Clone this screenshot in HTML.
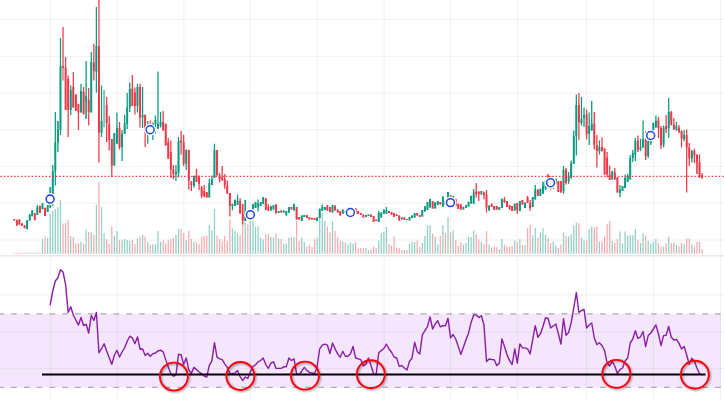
<!DOCTYPE html>
<html><head><meta charset="utf-8"><title>chart</title>
<style>html,body{margin:0;padding:0;background:#fff;font-family:"Liberation Sans",sans-serif;}svg{display:block;filter:blur(0.35px)}</style></head><body>
<svg width="724" height="400" viewBox="0 0 724 400">
<defs><filter id="sh" x="-30%" y="-30%" width="170%" height="170%"><feGaussianBlur in="SourceAlpha" stdDeviation="1.1"/><feOffset dx="1.3" dy="1.3"/><feComponentTransfer><feFuncA type="linear" slope="0.45"/></feComponentTransfer><feMerge><feMergeNode/><feMergeNode in="SourceGraphic"/></feMerge></filter></defs>
<rect width="724" height="400" fill="#fff"/>
<rect x="0" y="313.8" width="721" height="73.65" fill="#f4e7fd"/>
<path d="M50.6 0V400M117.1 0V400M183.9 0V400M250.1 0V400M317.1 0V400M384.1 0V400M450.4 0V400M517.4 0V400M586.5 0V400M653.5 0V400M720.4 0V400M0 19.6H724M0 56.3H724M0 93H724M0 129.75H724M0 166.4H724M0 203.1H724M0 240H724M0 295H724M0 332H724M0 368.7H724" stroke="#000" stroke-opacity="0.055" stroke-width="1" fill="none"/>
<rect x="0" y="255" width="724" height="1.6" fill="#e9e9e9"/>
<path d="M27.1 252.7V253.8M29.67 252.7V253.8M32.24 252.7V253.8M37.37 252.7V253.8M42.5 239.25V253.8M47.63 238.2V253.8M50.2 213.7V253.8M52.77 210.8V253.8M55.33 208.9V253.8M57.9 206.9V253.8M60.47 200.25V253.8M70.73 236V253.8M81 241.75V253.8M86.13 229.5V253.8M91.27 232.4V253.8M96.4 205V253.8M101.53 207V253.8M104.1 233V253.8M114.36 235.75V253.8M116.93 231V253.8M122.06 240.5V253.8M124.63 238.9V253.8M127.2 239.9V253.8M129.76 241.1V253.8M137.46 238.9V253.8M142.59 235.1V253.8M147.73 242.1V253.8M152.86 244.25V253.8M155.43 244.6V253.8M157.99 231.1V253.8M160.56 242V253.8M175.96 235.1V253.8M178.53 229V253.8M186.23 240.1V253.8M193.93 241.75V253.8M209.32 224.9V253.8M211.89 230.2V253.8M214.46 209.1V253.8M232.42 228.25V253.8M234.99 230.75V253.8M237.56 233.25V253.8M245.26 221.75V253.8M250.39 221.1V253.8M252.95 220.5V253.8M255.52 226.75V253.8M258.09 226.4V253.8M260.65 237.4V253.8M263.22 239.25V253.8M270.92 236.75V253.8M273.49 237.4V253.8M278.62 238.4V253.8M283.75 243.6V253.8M286.32 243.6V253.8M288.89 237.8V253.8M294.02 237.2V253.8M301.72 237.4V253.8M304.28 241.75V253.8M317.12 237.6V253.8M319.68 212V253.8M322.25 213V253.8M324.82 220.9V253.8M332.52 221.4V253.8M342.78 241.75V253.8M347.91 244.6V253.8M350.48 242.4V253.8M353.05 243.4V253.8M365.88 248V253.8M368.45 250.5V253.8M378.71 240.5V253.8M381.28 233V253.8M383.85 231.75V253.8M386.41 227.1V253.8M401.81 249.9V253.8M409.51 244V253.8M412.08 241.75V253.8M414.64 242V253.8M422.34 243V253.8M424.91 236.1V253.8M427.48 225.5V253.8M430.04 224.9V253.8M435.18 236.5V253.8M437.74 244.5V253.8M442.88 224.9V253.8M448.01 217.1V253.8M453.14 230.25V253.8M463.41 244.6V253.8M465.97 243V253.8M468.54 237.1V253.8M471.11 237.1V253.8M473.67 230.5V253.8M481.37 241.75V253.8M489.07 244.6V253.8M499.34 249.25V253.8M501.9 238.9V253.8M514.74 240.5V253.8M519.87 239.25V253.8M525 245.1V253.8M532.7 235.25V253.8M535.27 228V253.8M540.4 232.4V253.8M542.97 228.25V253.8M545.54 234.9V253.8M553.24 241.4V253.8M555.8 245.25V253.8M563.5 232.6V253.8M568.63 236.5V253.8M571.2 234.25V253.8M573.77 225.5V253.8M576.33 222.6V253.8M581.47 237.4V253.8M584.03 240.5V253.8M589.17 229V253.8M591.73 226.4V253.8M599.43 241.75V253.8M612.26 241.1V253.8M619.96 231.4V253.8M622.53 243.6V253.8M625.1 231.4V253.8M627.66 236.1V253.8M630.23 234.9V253.8M632.8 235.25V253.8M635.36 229V253.8M640.5 243V253.8M643.06 233.25V253.8M648.2 240.75V253.8M650.76 243.6V253.8M653.33 241.75V253.8M655.89 239V253.8M663.59 246.4V253.8M668.73 236.75V253.8M676.43 245.1V253.8M684.13 244.25V253.8M691.83 244.6V253.8" stroke="#8fd0c7" stroke-width="1.25" fill="none"/>
<path d="M14.27 252.7V253.8M16.84 252.7V253.8M19.4 252.7V253.8M21.97 252.7V253.8M24.54 252.7V253.8M34.8 252.7V253.8M39.94 252.7V253.8M45.07 237.5V253.8M63.03 223.6V253.8M65.6 223V253.8M68.17 220V253.8M73.3 237V253.8M75.87 243.4V253.8M78.43 243.3V253.8M83.57 244V253.8M88.7 231.75V253.8M93.83 234.9V253.8M98.96 182.5V253.8M106.66 239.25V253.8M109.23 244V253.8M111.8 226.5V253.8M119.5 239.9V253.8M132.33 239.9V253.8M134.9 244V253.8M140.03 237V253.8M145.16 236.5V253.8M150.29 244.5V253.8M163.13 240.5V253.8M165.69 243.4V253.8M168.26 240.5V253.8M170.83 238.9V253.8M173.39 237.6V253.8M181.09 229V253.8M183.66 233V253.8M188.79 231.1V253.8M191.36 239V253.8M196.49 242.1V253.8M199.06 244V253.8M201.62 237V253.8M204.19 235.9V253.8M206.76 236V253.8M217.02 235.25V253.8M219.59 238.9V253.8M222.16 241.1V253.8M224.72 236.1V253.8M227.29 241.1V253.8M229.86 219.5V253.8M240.12 235.25V253.8M242.69 220V253.8M247.82 224.25V253.8M265.79 234.25V253.8M268.35 234.25V253.8M276.05 233.6V253.8M281.19 239V253.8M291.45 237.6V253.8M296.58 221.1V253.8M299.15 241.1V253.8M306.85 247.1V253.8M309.42 244.5V253.8M311.98 247.1V253.8M314.55 239.25V253.8M327.38 226.5V253.8M329.95 232.4V253.8M335.08 231.1V253.8M337.65 237.6V253.8M340.22 241.1V253.8M345.35 242.4V253.8M355.61 241.75V253.8M358.18 248.6V253.8M360.75 248V253.8M363.31 248.25V253.8M371.01 249.25V253.8M373.58 246.4V253.8M376.15 248V253.8M388.98 244V253.8M391.55 245.5V253.8M394.11 236.5V253.8M396.68 247.4V253.8M399.25 248V253.8M404.38 249.9V253.8M406.94 249.9V253.8M417.21 240.5V253.8M419.78 247V253.8M432.61 233.6V253.8M440.31 236.1V253.8M445.44 233V253.8M450.57 231.9V253.8M455.71 240.1V253.8M458.27 246.1V253.8M460.84 242V253.8M476.24 234.25V253.8M478.81 239.25V253.8M483.94 244V253.8M486.51 231.1V253.8M491.64 247.4V253.8M494.21 246.4V253.8M496.77 247.1V253.8M504.47 245.25V253.8M507.04 246.4V253.8M509.6 246.4V253.8M512.17 245.9V253.8M517.3 242V253.8M522.44 245.1V253.8M527.57 228.25V253.8M530.14 225.1V253.8M537.84 237.75V253.8M548.1 237.75V253.8M550.67 243V253.8M558.37 247.75V253.8M560.93 244.6V253.8M566.07 236.1V253.8M578.9 223.25V253.8M586.6 240.5V253.8M594.3 227.4V253.8M596.87 226.4V253.8M602 241.75V253.8M604.56 236.75V253.8M607.13 223.9V253.8M609.7 220.9V253.8M614.83 243V253.8M617.4 238.9V253.8M637.93 240.1V253.8M645.63 235.25V253.8M658.46 243.6V253.8M661.03 246.4V253.8M666.16 243.6V253.8M671.29 243V253.8M673.86 242.4V253.8M678.99 246.4V253.8M681.56 243V253.8M686.69 238.4V253.8M689.26 238.4V253.8M694.39 246.4V253.8M696.96 242V253.8M699.53 241.75V253.8M702.09 249.25V253.8" stroke="#f9aaae" stroke-width="1.25" fill="none"/>
<path d="M27.1 220V229.5M29.67 214V220.75M32.24 210V216.4M37.37 205V215M42.5 203V209.4M47.63 205V212M50.2 187V207.5M52.77 165V206M55.33 111.9V185.6M57.9 121V152M60.47 38V135M70.73 85.6V115M81 83.75V112.5M86.13 61V118.75M91.27 52V112.5M96.4 7V92.5M101.53 85.6V137M114.36 133V165.6M116.93 112.5V143.75M122.06 130V161M124.63 115V134M127.2 93V129M129.76 82.5V112M137.46 83.75V112.5M142.59 87V128M147.73 121V143.75M152.86 122.5V140M155.43 115.6V133.75M157.99 71.5V128.75M160.56 112V127.5M175.96 165V181M178.53 137V177.5M186.23 149.4V170M193.93 175.6V187.5M209.32 178.75V197.5M211.89 175.6V185M214.46 143.75V178M232.42 203.75V210.3M234.99 199.4V206M237.56 194.5V205M245.26 200V221M247.82 212V218M250.39 210V214M252.95 203.75V209.4M255.52 202V208M258.09 199.5V211.5M260.65 202V206M263.22 197V204M270.92 206V210.6M273.49 205V209.5M278.62 211V213M283.75 210.6V212.5M286.32 211V215.6M288.89 207V213M294.02 203.75V210.6M301.72 215.6V221M304.28 215V217M317.12 217.5V221M319.68 208.75V218M322.25 204.4V211M324.82 207V210M332.52 204.75V212.5M342.78 209.4V213.75M345.35 210.5V213M365.88 215V217M368.45 214.4V216M378.71 211V222M381.28 212.5V217.5M383.85 209.4V213.75M386.41 207V213.75M401.81 217.5V219.4M409.51 217V220.6M412.08 215.6V218M414.64 213V217.5M422.34 210V216.5M424.91 206V211.5M427.48 202V210M430.04 199V207.5M435.18 202V208.6M437.74 201V205M442.88 196V207M445.44 200.5V205M448.01 192V206M453.14 196V205M463.41 206.75V209.4M465.97 204.9V208M468.54 201.5V206.75M471.11 195.5V203.75M473.67 189V203.75M481.37 191V194.4M489.07 205.6V210.6M499.34 207V210M501.9 198.75V208M514.74 203.75V210.6M519.87 201V211M525 202.5V208M532.7 197V207M535.27 185V199.4M540.4 188.75V196M542.97 182V193.75M545.54 180V190M553.24 178V189M555.8 178.5V185M563.5 166V193.75M568.63 172V183.75M571.2 160.6V178.75M573.77 130.6V163.75M576.33 94.4V155.6M581.47 97V125.6M584.03 107.5V127M589.17 112.5V145M591.73 101V130.6M599.43 140.6V154.4M612.26 171V179.4M619.96 185V197.5M622.53 186V191M625.1 174.4V188M627.66 173.75V182M630.23 155V179.4M632.8 150V162M635.36 138V161M640.5 138.75V151M643.06 120.6V147.5M648.2 136V158M650.76 130.5V145M653.33 122.5V130.6M655.89 115.6V127.5M663.59 125.6V147.5M668.73 98V138M676.43 122V130.6M684.13 130V141.3M691.83 150V162.5" stroke="#089981" stroke-width="1.25" fill="none"/>
<path d="M14.27 219V220.5M16.84 219.5V225.75M19.4 219V224.5M21.97 223V226M24.54 225V228.5M34.8 213V220.5M39.94 205.6V213M45.07 207.5V216M63.03 27V68M65.6 57V110M68.17 75.6V137M73.3 72V107.5M75.87 94.4V111M78.43 103.75V130M83.57 87V114.4M88.7 88V125.6M93.83 43.75V80.6M98.96 0V162.5M106.66 97V142M109.23 116V150.6M111.8 139V177M119.5 122V149.4M132.33 75V106M134.9 87.5V114.4M140.03 83.75V127.5M145.16 114.4V147M150.29 120.6V134M163.13 111V130.6M165.69 123.75V145.6M168.26 138V158.75M170.83 140.6V178M173.39 165V179.4M181.09 131V154.4M183.66 135V166M188.79 150V189.4M191.36 181V191M196.49 168.75V182M199.06 175.6V190M201.62 186V198M204.19 185V197M206.76 192V197.5M217.02 150V175.6M219.59 173V182.5M222.16 166V181M224.72 174V188.75M227.29 180.6V193.75M229.86 193V216.6M240.12 198.3V213.75M242.69 204V224.4M265.79 198V210M268.35 204.2V211M276.05 204.2V213.6M281.19 210.6V212.5M291.45 207V209.4M296.58 207V219.4M299.15 217V219.4M306.85 215V218M309.42 217V219.4M311.98 218V219.4M314.55 218V220M327.38 205V210.6M329.95 207V212M335.08 205.6V210.6M337.65 209.4V212.5M340.22 211V215.6M347.91 209V213M350.48 210V213M353.05 210V213M355.61 208V214M358.18 211V214M360.75 213V215M363.31 214.4V217.5M371.01 214.4V217M373.58 216V222M376.15 219.4V221M388.98 211V213M391.55 212V214.4M394.11 213V217M396.68 214.4V216M399.25 215.6V220.6M404.38 217.5V219.75M406.94 219V220M417.21 213V215.6M419.78 215V217M432.61 201V208.6M440.31 202V204.5M450.57 195.25V204M455.71 199V206M458.27 203.75V209M460.84 204V209.75M476.24 183V197.5M478.81 191V201M483.94 191.5V199.4M486.51 190V212.5M491.64 203.75V207M494.21 206V210M496.77 206V209.4M504.47 197V202.5M507.04 201V207M509.6 205V209.4M512.17 206V211M517.3 203V213.75M522.44 200V204.4M527.57 196V203M530.14 200V211M537.84 189.4V196M548.1 174V186M550.67 176V189.8M558.37 181V192M560.93 181V192.5M566.07 168V184.4M578.9 93V140M586.6 109.4V139.4M594.3 112V149.4M596.87 135V167.5M602 137.5V151.5M604.56 148V175M607.13 152V177.5M609.7 165.6V180M614.83 168V179.4M617.4 177V192.5M637.93 135.6V152M645.63 131V160M658.46 117V138M661.03 126V149M666.16 115V133M671.29 111V125.6M673.86 118V129.4M678.99 125V132.5M681.56 130.6V147.5M686.69 129.4V192.5M689.26 143V166M694.39 148.7V163M696.96 154.4V174M699.53 154.4V178M702.09 173V179" stroke="#f23645" stroke-width="1.25" fill="none"/>
<path d="M27.1 220.5V229M29.67 214.5V220.5M32.24 210.5V216M37.37 207V215M42.5 203.5V209M47.63 205.5V212M50.2 205.5V207.5M52.77 171.25V193.75M55.33 142.5V171.25M57.9 130V142.5M60.47 66.25V130M70.73 90V110M81 91V112.5M86.13 96V101M91.27 62V112.5M96.4 46V72M101.53 121V133M114.36 133V165.6M116.93 128V143.75M122.06 133.75V147M124.63 123V134M127.2 107.5V123.75M129.76 88.75V107.5M137.46 87V106M142.59 115V117.6M147.73 125V134M152.86 124V133M155.43 120V124M157.99 124V128.75M160.56 122V126M175.96 172V174.5M178.53 141V173M186.23 150V163.75M193.93 176V186M209.32 183V197.5M211.89 179V185M214.46 150V178M232.42 204V206M234.99 200V205.8M237.56 201V204.6M245.26 217V221M247.82 213V217M250.39 210.5V213M252.95 204.5V209.2M255.52 202V208M258.09 203.5V207M260.65 202V206M263.22 197.3V204M270.92 206.3V210.6M273.49 205V209.5M278.62 211V213M283.75 210.6V212.5M286.32 211V215.6M288.89 207V212.5M294.02 204.4V210.6M301.72 215.6V221M304.28 215V217M317.12 217.5V221M319.68 208.75V218M322.25 207V211M324.82 207V210M332.52 205.6V212.5M342.78 209.4V213.75M345.35 211V213M365.88 215V217M368.45 214.4V216M378.71 213V222M381.28 212.5V217.5M383.85 209.4V213.75M386.41 210V213.75M401.81 217.5V219.4M409.51 217V220.6M412.08 215.6V218M414.64 213V217.5M422.34 210V216.5M424.91 206.4V211.5M427.48 202V210M430.04 199V207.5M435.18 202V208.6M437.74 201V205M442.88 197V206.75M445.44 201V205M448.01 192V205M453.14 196V204M463.41 207V209.4M465.97 205V208M468.54 202V206.5M471.11 196V203.6M473.67 192.5V203.75M481.37 191V194.4M489.07 205.6V210.6M499.34 207V210M501.9 198.75V208M514.74 203.75V210.6M519.87 201V211M525 202.5V208M532.7 197V207M535.27 189.4V199.4M540.4 188.75V196M542.97 186V193.75M545.54 181V189M553.24 179V187M555.8 179V184M563.5 170V191M568.63 177V181M571.2 163V177.5M573.77 136V163.75M576.33 105V136M581.47 118.75V123M584.03 115V118M589.17 126V133.75M591.73 123.5V130.6M599.43 147V151M612.26 171V179.4M619.96 189.4V193M622.53 186V191M625.1 178V188M627.66 176V182M630.23 158V179.4M632.8 153V158M635.36 141V155M640.5 147V149.4M643.06 138.75V147.5M648.2 141V156M650.76 131V143M653.33 123V130.6M655.89 120.6V127.5M663.59 127.5V145M668.73 112V128M676.43 126V130.6M684.13 135V139M691.83 151V158.7" stroke="#089981" stroke-width="1.9" fill="none"/>
<path d="M14.27 219V220.3M16.84 220V225.5M19.4 219.5V224.5M21.97 223.5V225.75M24.54 225.5V228M34.8 213.5V220M39.94 206V213M45.07 208V216M63.03 66.25V68M65.6 67.5V110M68.17 79V110M73.3 87V107.5M75.87 94.4V111M78.43 104V112.5M83.57 92V114M88.7 100V112M93.83 62.5V71M98.96 46V132.5M106.66 105V123M109.23 123.75V140M111.8 139V165.6M119.5 128V147.5M132.33 88.75V106M134.9 92.5V106M140.03 87V117.5M145.16 115V128.75M150.29 125V133M163.13 122V130.6M165.69 123.75V145.6M168.26 142V158.75M170.83 152V169.4M173.39 169.4V174M181.09 140.6V142.5M183.66 142V163.75M188.79 150V181M191.36 182V185M196.49 175.6V182M199.06 177V184M201.62 187.5V196M204.19 191V196.5M206.76 192V197.5M217.02 150V175.6M219.59 175.6V179M222.16 177.5V180M224.72 179V185.6M227.29 185.6V193.5M229.86 193V206M240.12 201V213.6M242.69 213.6V220.6M265.79 198.5V209.7M268.35 207V211M276.05 204.4V213.3M281.19 210.6V212.5M291.45 207V209.4M296.58 207V219.4M299.15 217V219.4M306.85 215V218M309.42 217V219.4M311.98 218V219.4M314.55 218V220M327.38 205.6V210.6M329.95 207V212M335.08 205.6V210.6M337.65 209.4V212.5M340.22 211V215.6M347.91 210V213M350.48 211V213M353.05 211V213M355.61 208.75V214M358.18 211V214M360.75 213V215M363.31 214.4V217.5M371.01 214.4V217M373.58 216V222M376.15 219.4V221M388.98 211V213M391.55 212V214.4M394.11 213V217M396.68 214.4V216M399.25 215.6V220.6M404.38 217.5V219.75M406.94 219V220M417.21 213V215.6M419.78 215V217M432.61 201V208.6M440.31 202V204.5M450.57 195.5V204M455.71 199V206M458.27 203.75V209M460.84 204.4V209.5M476.24 191.5V194M478.81 192V194M483.94 192.5V195M486.51 194.4V207.5M491.64 203.75V207M494.21 206V210M496.77 206V209.4M504.47 199.4V202.5M507.04 201V207M509.6 205V209.4M512.17 206V211M517.3 203V210.6M522.44 200V204.4M527.57 197V203M530.14 203V208M537.84 189.4V196M548.1 175.2V186M550.67 178V186M558.37 181V192M560.93 181V192.5M566.07 169.4V183M578.9 105V122.5M586.6 114.4V134.4M594.3 123.75V145M596.87 145V151M602 147V151M604.56 148.75V174.4M607.13 157.5V174.4M609.7 174.4V180M614.83 172.5V179.4M617.4 177.5V192.5M637.93 140.6V150M645.63 139.4V156M658.46 120.6V128M661.03 128V145.5M666.16 126V129M671.29 112V124.4M673.86 124.4V129.4M678.99 127.5V132.5M681.56 131.2V138.5M686.69 135V147.5M689.26 147.5V158M694.39 151V155.5M696.96 154.5V162M699.53 162V177M702.09 175V177.4" stroke="#f23645" stroke-width="1.9" fill="none"/>
<path d="M63.03 68V80.6" stroke="#f23645" stroke-opacity="0.55" stroke-width="1.9" fill="none"/>
<path d="M104.1 90V127.5" stroke="#089981" stroke-opacity="0.55" stroke-width="1.9" fill="none"/>
<path d="M50.2 187V192.8" stroke="#089981" stroke-opacity="0.55" stroke-width="1.9" fill="none"/>
<path d="M86.13 100V118.75" stroke="#089981" stroke-opacity="0.55" stroke-width="1.9" fill="none"/>
<path d="M57.9 121V130" stroke="#089981" stroke-opacity="0.55" stroke-width="1.9" fill="none"/>
<path d="M245.26 200V217" stroke="#089981" stroke-opacity="0.55" stroke-width="1.9" fill="none"/>
<path d="M242.69 204V213.6" stroke="#f23645" stroke-opacity="0.55" stroke-width="1.9" fill="none"/>
<path d="M696.96 162V174" stroke="#f23645" stroke-opacity="0.55" stroke-width="1.9" fill="none"/>
<path d="M542.97 181.75V186" stroke="#089981" stroke-opacity="0.55" stroke-width="1.9" fill="none"/>
<path d="M0.35 176.4H724" stroke="#f23645" stroke-width="1.4" stroke-dasharray="1.5 1.97" fill="none"/>
<circle cx="50.05" cy="199.05" r="6" fill="#fff"/><circle cx="50.05" cy="199.05" r="3.95" fill="#fff" stroke="#2346e8" stroke-width="1.55"/>
<circle cx="150.15" cy="129.75" r="6" fill="#fff"/><circle cx="150.15" cy="129.75" r="3.95" fill="#fff" stroke="#2346e8" stroke-width="1.55"/>
<circle cx="250.4" cy="214.75" r="6" fill="#fff"/><circle cx="250.4" cy="214.75" r="3.95" fill="#fff" stroke="#2346e8" stroke-width="1.55"/>
<circle cx="350.4" cy="212.5" r="6" fill="#fff"/><circle cx="350.4" cy="212.5" r="3.95" fill="#fff" stroke="#2346e8" stroke-width="1.55"/>
<circle cx="450.45" cy="202.6" r="6" fill="#fff"/><circle cx="450.45" cy="202.6" r="3.95" fill="#fff" stroke="#2346e8" stroke-width="1.55"/>
<circle cx="550.55" cy="182.75" r="6" fill="#fff"/><circle cx="550.55" cy="182.75" r="3.95" fill="#fff" stroke="#2346e8" stroke-width="1.55"/>
<circle cx="650.65" cy="135.5" r="6" fill="#fff"/><circle cx="650.65" cy="135.5" r="3.95" fill="#fff" stroke="#2346e8" stroke-width="1.55"/>
<path d="M-1.7 313.8H721M-1.7 387.45H721" stroke="#aeaab2" stroke-width="1.3" stroke-dasharray="5.7 7.1" fill="none"/>
<polyline points="50.2,304.8 52.77,291 55.33,281 57.9,277.75 60.47,269.8 63.03,272 65.6,284.4 68.17,312.5 70.73,306.75 73.3,315 75.87,320 78.43,325 81,317.5 83.57,325.5 86.13,324.3 88.7,333 91.27,315.5 93.83,320.5 96.4,312.5 98.96,352.8 101.53,348.7 104.1,343.7 106.66,351 109.23,357.8 111.8,364.4 114.36,355.3 116.93,350.3 119.5,357 122.06,352 124.63,347.8 127.2,341.2 129.76,336.2 132.33,337.9 134.9,343.7 137.46,337 140.03,349.2 142.59,349 145.16,355.6 147.73,353.3 150.29,356.3 152.86,353.8 155.43,353 157.99,350.9 160.56,350.2 163.13,351.8 165.69,359.6 168.26,367 170.83,373.7 173.39,376.2 175.96,375.4 178.53,354.2 181.09,354.7 183.66,364.6 186.23,358 188.79,369.6 191.36,373.4 193.93,367.4 196.49,369.6 199.06,372 201.62,373.7 204.19,376.2 206.76,377 209.32,365.4 211.89,360.8 214.46,342.6 217.02,357.2 219.59,358.8 222.16,359.6 224.72,363.8 227.29,367.4 229.86,373.4 232.42,373.7 234.99,372.9 237.56,370.4 240.12,376.7 242.69,380.7 245.26,377 247.82,378.4 250.39,371.6 252.95,366.5 255.52,364.8 258.09,361.9 260.65,360.5 263.22,358 265.79,364.6 268.35,368.4 270.92,363 273.49,361.8 276.05,368.4 278.62,368.4 281.19,368.4 283.75,366.8 286.32,366.8 288.89,358 291.45,360.5 294.02,358.8 296.58,373.7 299.15,374.5 301.72,371.2 304.28,367.4 306.85,370.4 309.42,372.4 311.98,373 314.55,373.7 317.12,367 319.68,348.9 322.25,345.2 324.82,344.2 327.38,345.2 329.95,353.5 332.52,343 335.08,348.9 337.65,353.8 340.22,357.2 342.78,351.3 345.35,356.3 347.91,356.3 350.48,353.8 353.05,346.4 355.61,358 358.18,358.8 360.75,359.6 363.31,365.9 365.88,364.2 368.45,358 371.01,365.5 373.58,373.8 376.15,374.6 378.71,352.8 381.28,350.6 383.85,348.5 386.41,344 388.98,349 391.55,352.3 394.11,357.2 396.68,358 399.25,366.4 401.81,365.5 404.38,368 406.94,370 409.51,361.4 412.08,358 414.64,342.3 417.21,351.4 419.78,353.9 422.34,334.9 424.91,330.7 427.48,326.6 430.04,317 432.61,329 435.18,324 437.74,320.8 440.31,326.9 442.88,325.7 445.44,325.7 448.01,318.3 450.57,337.8 453.14,334.5 455.71,339 458.27,346.5 460.84,354.4 463.41,347.3 465.97,339.8 468.54,333.2 471.11,322.4 473.67,315 476.24,315.1 478.81,317.6 481.37,315.7 483.94,324.8 486.51,361.5 489.07,359 491.64,359.5 494.21,359.8 496.77,365.6 499.34,363.2 501.9,339 504.47,346.5 507.04,354.9 509.6,360.7 512.17,364.5 514.74,348.9 517.3,363.2 519.87,344 522.44,347.9 525,347.9 527.57,348.9 530.14,353.9 532.7,339.7 535.27,325.6 537.84,337.2 540.4,333.9 542.97,326.5 545.54,317.8 548.1,318.5 550.67,328 553.24,326 555.8,324 558.37,333.9 560.93,344 563.5,318.7 566.07,335.3 568.63,332.6 571.2,322.4 573.77,307.8 576.33,292.5 578.9,312.4 581.47,310.7 584.03,309.3 586.6,328 589.17,325 591.73,323 594.3,338 596.87,344.6 599.43,342.8 602,345.5 604.56,350.5 607.13,362.8 609.7,366 612.26,361.3 614.83,366.3 617.4,373.4 619.96,369.6 622.53,368 625.1,361 627.66,358 630.23,343 632.8,339 635.36,330.7 637.93,338.5 640.5,336.8 643.06,331.5 645.63,346.7 648.2,335.6 650.76,333 653.33,329 655.89,324.9 658.46,334 661.03,345.6 663.59,335.6 666.16,335.3 668.73,326.5 671.29,337.3 673.86,340 676.43,339.4 678.99,343.4 681.56,348.9 684.13,346.4 686.69,355 689.26,364.2 691.83,358.3 694.39,361.3 696.96,368 699.53,373.8 702.09,374.6" fill="none" stroke="#8c1ca6" stroke-width="1.4" stroke-linejoin="round" stroke-linecap="round"/>
<path d="M42 374.5H705.5" stroke="#000" stroke-width="2" fill="none"/>
<circle cx="173.9" cy="376.6" r="14" fill="none" stroke="#fa0510" stroke-width="1.9" filter="url(#sh)"/>
<circle cx="240.4" cy="376" r="14" fill="none" stroke="#fa0510" stroke-width="1.9" filter="url(#sh)"/>
<circle cx="305" cy="375.65" r="14" fill="none" stroke="#fa0510" stroke-width="1.9" filter="url(#sh)"/>
<circle cx="370.85" cy="374.25" r="14" fill="none" stroke="#fa0510" stroke-width="1.9" filter="url(#sh)"/>
<circle cx="616.35" cy="373.9" r="14" fill="none" stroke="#fa0510" stroke-width="1.9" filter="url(#sh)"/>
<circle cx="694.9" cy="374.8" r="14" fill="none" stroke="#fa0510" stroke-width="1.9" filter="url(#sh)"/>
</svg></body></html>
